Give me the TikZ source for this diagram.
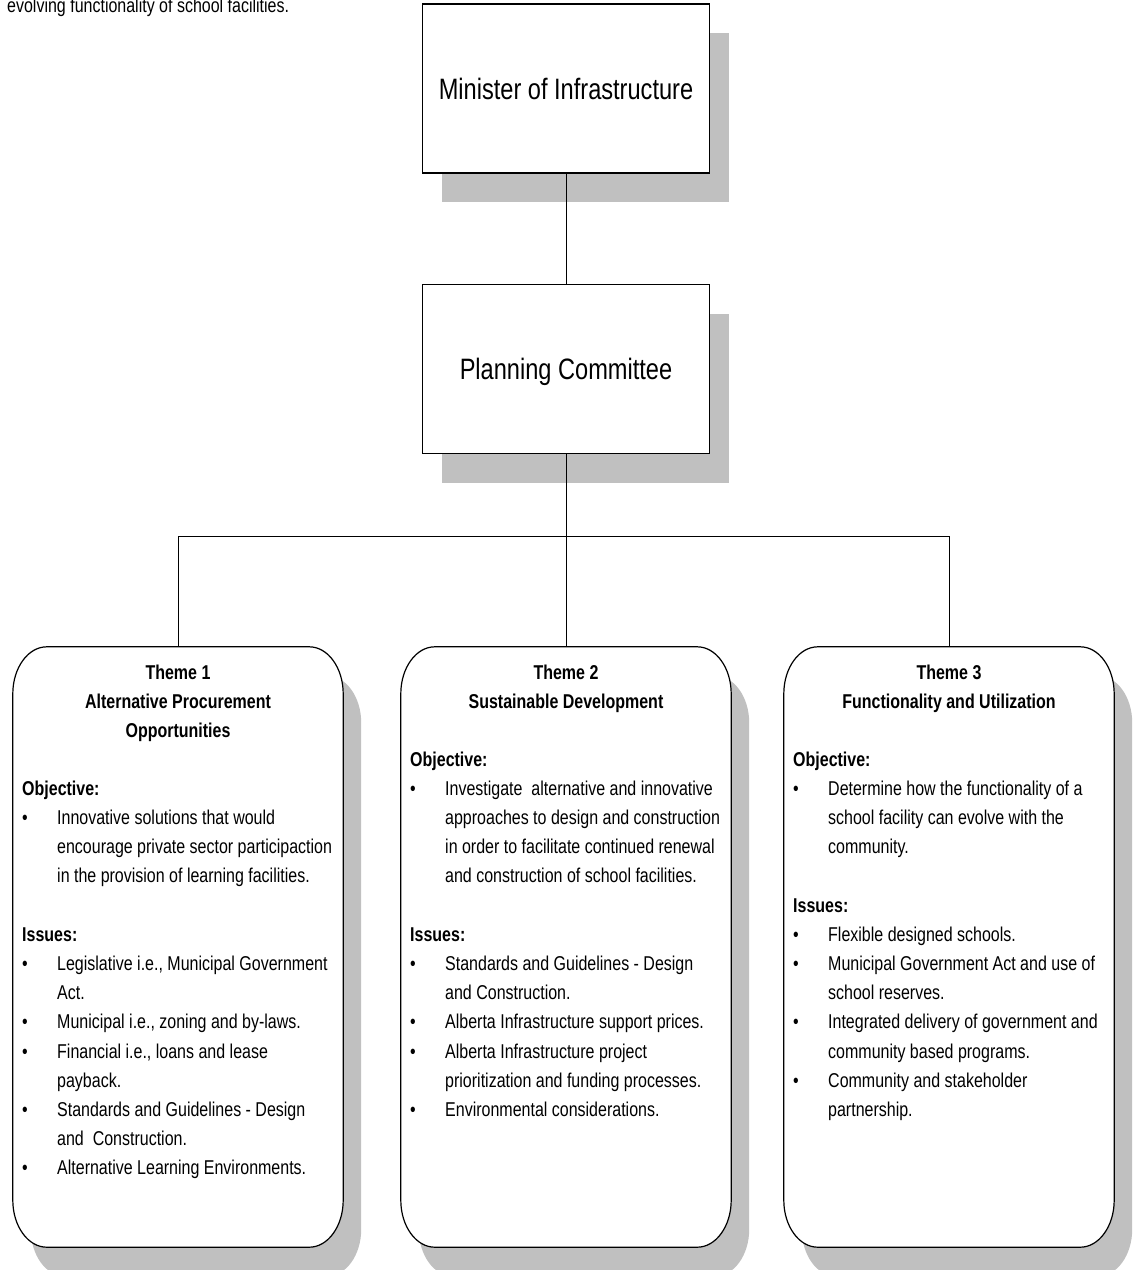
\documentclass[tikz,border=0pt]{standalone}
\usepackage{fontspec}
\setmainfont{Liberation Sans}[FakeStretch=0.8]
\definecolor{shadowgray}{RGB}{192,192,192}
\newcommand{\tbul}{\makebox[35pt][l]{\textbullet}}
\newcommand{\tind}{\hspace*{35pt}}
\newcommand{\tstrut}{\rule{0pt}{20pt}}
\newcommand{\ovalpath}[1]{([shift={(34,0)}]#1.north west) -- ([shift={(-34,0)}]#1.north east)
  arc[start angle=270, end angle=360, x radius=34, y radius=47]
  -- ([shift={(0,-47)}]#1.south east)
  arc[start angle=0, end angle=90, x radius=34, y radius=47]
  -- ([shift={(34,0)}]#1.south west)
  arc[start angle=90, end angle=180, x radius=34, y radius=47]
  -- ([shift={(0,47)}]#1.north west)
  arc[start angle=180, end angle=270, x radius=34, y radius=47] -- cycle}
\newcommand{\ovalshadow}[1]{([shift={(52,29)}]#1.north west) -- ([shift={(-16,29)}]#1.north east)
  arc[start angle=270, end angle=360, x radius=34, y radius=47]
  -- ([shift={(18,-18)}]#1.south east)
  arc[start angle=0, end angle=90, x radius=34, y radius=47]
  -- ([shift={(52,29)}]#1.south west)
  arc[start angle=90, end angle=180, x radius=34, y radius=47]
  -- ([shift={(18,76)}]#1.north west)
  arc[start angle=180, end angle=270, x radius=34, y radius=47] -- cycle}
\begin{document}
\begin{tikzpicture}[x=1pt,y=-1pt,
  bigbox/.style={draw=black, line width=1.2pt, fill=white, minimum width=287, minimum height=169,
    inner sep=0, font=\fontsize{29.5}{34}\selectfont, text height=21pt, text depth=0pt},
  themebox/.style={draw=none, minimum width=330, minimum height=600, inner sep=0},
  body/.style={anchor=north west, inner sep=0, align=left, font=\fontsize{20}{29.2}\selectfont},
  head/.style={anchor=north, inner sep=0, align=center, font=\fontsize{20}{29.2}\selectfont\bfseries},
  conn/.style={draw=black, line width=1pt}]
\useasboundingbox (0,0) rectangle (1135,1270);
\fill[white] (0,0) rectangle (1135,1270);

% intro text
\node[anchor=base west, inner sep=0, font=\fontsize{20}{24}\selectfont] (intro) at (7,12) {evolving functionality of school facilities.};

% top boxes (shadows first)
\coordinate (minc) at (566,88.5);
\coordinate (planc) at (566,369);
\fill[shadowgray] ([shift={(19,29)}]minc) ++(-143.5,-84.5) rectangle ++(287,169);
\fill[shadowgray] ([shift={(19,29)}]planc) ++(-143.5,-84.5) rectangle ++(287,169);
\node[bigbox] (min) at (minc) {Minister of Infrastructure};
\node[bigbox] (plan) at (planc) {Planning Committee};

% theme boxes
\node[themebox] (t1) at (178,947) {};
\node[themebox] (t2) at (566,947) {};
\node[themebox] (t3) at (949,947) {};
\foreach \t in {t1,t2,t3}{
  \fill[shadowgray] \ovalshadow{\t};
}
\foreach \t in {t1,t2,t3}{
  \draw[line width=1.2pt, fill=white] \ovalpath{\t};
}

% connectors
\coordinate (bus) at (566,536);
\draw[conn] (min.south) -- (plan.north);
\draw[conn] (plan.south) -- (bus);
\draw[conn] (bus) -| (t1.north);
\draw[conn] (bus) -- (t2.north);
\draw[conn] (bus) -| (t3.north);

% theme 1 text
\node[head] (h1) at (178,659) {\tstrut Theme 1\\Alternative Procurement\\Opportunities};
\node[body] (b1) at (22,775) {\tstrut\textbf{Objective:}\\
\tbul Innovative solutions that would\\
\tind encourage private sector participaction\\
\tind in the provision of learning facilities.\\
\mbox{}\\
\textbf{Issues:}\\
\tbul Legislative i.e., Municipal Government\\
\tind Act.\\
\tbul Municipal i.e., zoning and by-laws.\\
\tbul Financial i.e., loans and lease\\
\tind payback.\\
\tbul Standards and Guidelines - Design\\
\tind and~ Construction.\\
\tbul Alternative Learning Environments.};

% theme 2 text
\node[head] (h2) at (566,659) {\tstrut Theme 2\\Sustainable Development};
\node[body] (b2) at (410,745.8) {\tstrut\textbf{Objective:}\\
\tbul Investigate~ alternative and innovative\\
\tind approaches to design and construction\\
\tind in order to facilitate continued renewal\\
\tind and construction of school facilities.\\
\mbox{}\\
\textbf{Issues:}\\
\tbul Standards and Guidelines - Design\\
\tind and Construction.\\
\tbul Alberta Infrastructure support prices.\\
\tbul Alberta Infrastructure project\\
\tind prioritization and funding processes.\\
\tbul Environmental considerations.};

% theme 3 text
\node[head] (h3) at (949,659) {\tstrut Theme 3\\Functionality and Utilization};
\node[body] (b3) at (793,745.8) {\tstrut\textbf{Objective:}\\
\tbul Determine how the functionality of a\\
\tind school facility can evolve with the\\
\tind community.\\
\mbox{}\\
\textbf{Issues:}\\
\tbul Flexible designed schools.\\
\tbul Municipal Government Act and use of\\
\tind school reserves.\\
\tbul Integrated delivery of government and\\
\tind community based programs.\\
\tbul Community and stakeholder\\
\tind partnership.};
\end{tikzpicture}
\end{document}
